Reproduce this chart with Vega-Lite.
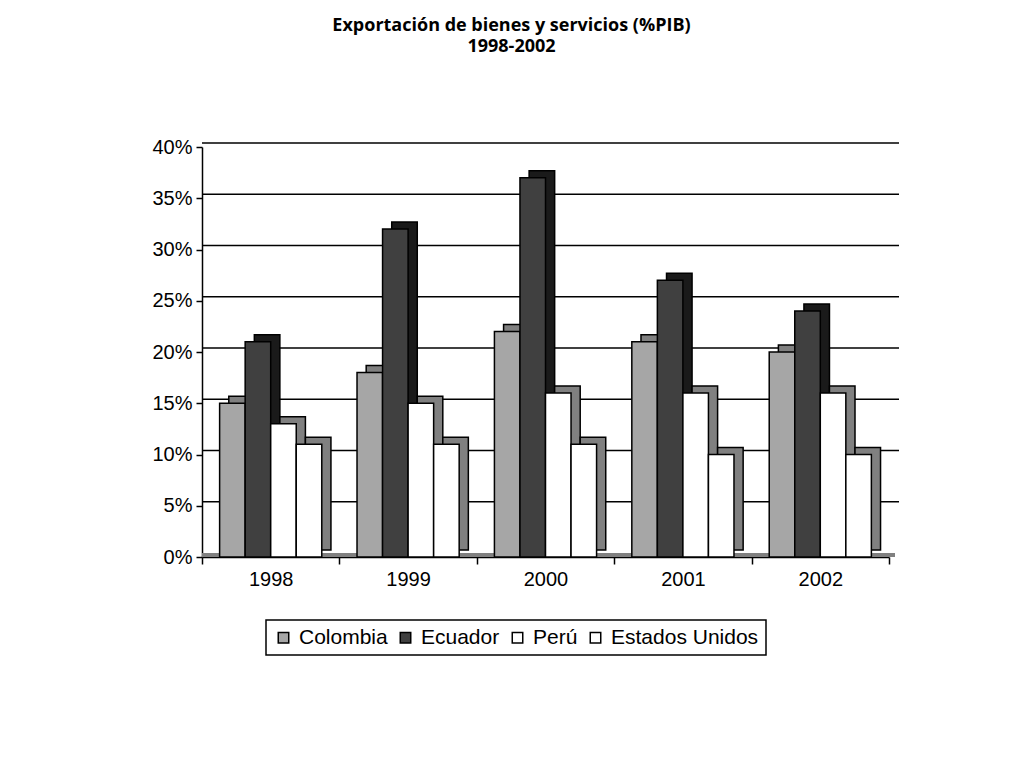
{
  "$schema": "https://vega.github.io/schema/vega-lite/v6.json",
  "width": 687,
  "height": 410,
  "padding": {"left": 151, "top": 17, "right": 5, "bottom": 5},
  "background": "white",
  "title": {
    "text": ["Exportación de bienes y servicios (%PIB)", "1998-2002"],
    "font": "Open Sans",
    "fontSize": 18,
    "fontWeight": "bold",
    "color": "black",
    "lineHeight": 21,
    "offset": 81,
    "dx": -34,
    "anchor": "middle"
  },
  "datasets": {
    "exp": [
      {"anio": "1998", "pais": "Colombia", "valor": 0.15},
      {"anio": "1998", "pais": "Ecuador", "valor": 0.21},
      {"anio": "1998", "pais": "Perú", "valor": 0.13},
      {"anio": "1998", "pais": "Estados Unidos", "valor": 0.11},
      {"anio": "1999", "pais": "Colombia", "valor": 0.18},
      {"anio": "1999", "pais": "Ecuador", "valor": 0.32},
      {"anio": "1999", "pais": "Perú", "valor": 0.15},
      {"anio": "1999", "pais": "Estados Unidos", "valor": 0.11},
      {"anio": "2000", "pais": "Colombia", "valor": 0.22},
      {"anio": "2000", "pais": "Ecuador", "valor": 0.37},
      {"anio": "2000", "pais": "Perú", "valor": 0.16},
      {"anio": "2000", "pais": "Estados Unidos", "valor": 0.11},
      {"anio": "2001", "pais": "Colombia", "valor": 0.21},
      {"anio": "2001", "pais": "Ecuador", "valor": 0.27},
      {"anio": "2001", "pais": "Perú", "valor": 0.16},
      {"anio": "2001", "pais": "Estados Unidos", "valor": 0.10},
      {"anio": "2002", "pais": "Colombia", "valor": 0.20},
      {"anio": "2002", "pais": "Ecuador", "valor": 0.24},
      {"anio": "2002", "pais": "Perú", "valor": 0.16},
      {"anio": "2002", "pais": "Estados Unidos", "valor": 0.10}
    ],
    "grid": [
      {"valor": 0.05}, {"valor": 0.10}, {"valor": 0.15}, {"valor": 0.20},
      {"valor": 0.25}, {"valor": 0.30}, {"valor": 0.35}, {"valor": 0.40}
    ]
  },
  "config": {
    "view": {"stroke": null},
    "axisY": {
      "domainColor": "black", "domainWidth": 1.5,
      "tickColor": "black", "tickWidth": 1.5, "tickSize": 6,
      "labelFont": "Liberation Sans", "labelFontSize": 20, "labelColor": "black",
      "labelPadding": 4, "grid": false, "title": null
    },
    "axisX": {
      "tickBand": "extent", "tickSize": 7,
      "domainColor": "black", "domainWidth": 1.5,
      "tickColor": "black", "tickWidth": 1.5,
      "labelFont": "Liberation Sans", "labelFontSize": 20, "labelColor": "black",
      "labelAngle": 0, "labelPadding": 5, "grid": false, "title": null
    },
    "legend": {
      "orient": "none", "legendX": 64, "legendY": 473, "direction": "horizontal",
      "strokeColor": "black", "strokeWidth": 1.5, "padding": 7,
      "labelFont": "Liberation Sans", "labelFontSize": 21, "labelColor": "black",
      "symbolType": "square", "symbolSize": 110,
      "symbolStrokeColor": "black", "symbolStrokeWidth": 1.5,
      "columnPadding": 7, "labelOffset": 5, "title": null
    }
  },
  "resolve": {"scale": {"xOffset": "independent"}},
  "layer": [
    {
      "data": {"name": "grid"},
      "mark": {"type": "rule", "xOffset": 10, "yOffset": -4, "color": "black", "strokeWidth": 1.5},
      "encoding": {
        "y": {"field": "valor", "type": "quantitative",
              "scale": {"domain": [0, 0.4]},
              "axis": {"format": ".0%", "values": [0, 0.05, 0.1, 0.15, 0.2, 0.25, 0.3, 0.35, 0.4], "title": null}}
      }
    },
    {
      "data": {"name": "grid"},
      "mark": {"type": "rule", "xOffset": 6, "yOffset": -2, "color": "#808080", "strokeWidth": 4},
      "encoding": {
        "y": {"datum": 0, "type": "quantitative"}
      }
    },
    {
      "data": {"name": "exp"},
      "mark": {"type": "bar", "yOffset": -7, "stroke": "black", "strokeWidth": 1.5},
      "encoding": {
        "x": {"field": "anio", "type": "nominal", "scale": {"paddingInner": 0, "paddingOuter": 0}},
        "xOffset": {"field": "pais", "type": "nominal", "sort": ["Colombia", "Ecuador", "Perú", "Estados Unidos"],
                    "scale": {"paddingInner": 0, "paddingOuter": 0.69, "align": 0.76}},
        "y": {"field": "valor", "type": "quantitative"},
        "fill": {"condition": {"test": "datum.pais === 'Ecuador'", "value": "#1a1a1a"}, "value": "#808080"}
      }
    },
    {
      "data": {"name": "exp"},
      "mark": {"type": "bar", "stroke": "black", "strokeWidth": 1.5},
      "encoding": {
        "x": {"field": "anio", "type": "nominal"},
        "xOffset": {"field": "pais", "type": "nominal", "sort": ["Colombia", "Ecuador", "Perú", "Estados Unidos"],
                    "scale": {"paddingInner": 0, "paddingOuter": 0.69, "align": 0.5}},
        "y": {"field": "valor", "type": "quantitative"},
        "color": {"field": "pais", "type": "nominal",
                  "scale": {"domain": ["Colombia", "Ecuador", "Perú", "Estados Unidos"],
                            "range": ["#a6a6a6", "#404040", "#ffffff", "#ffffff"]}}
      }
    }
  ]
}
